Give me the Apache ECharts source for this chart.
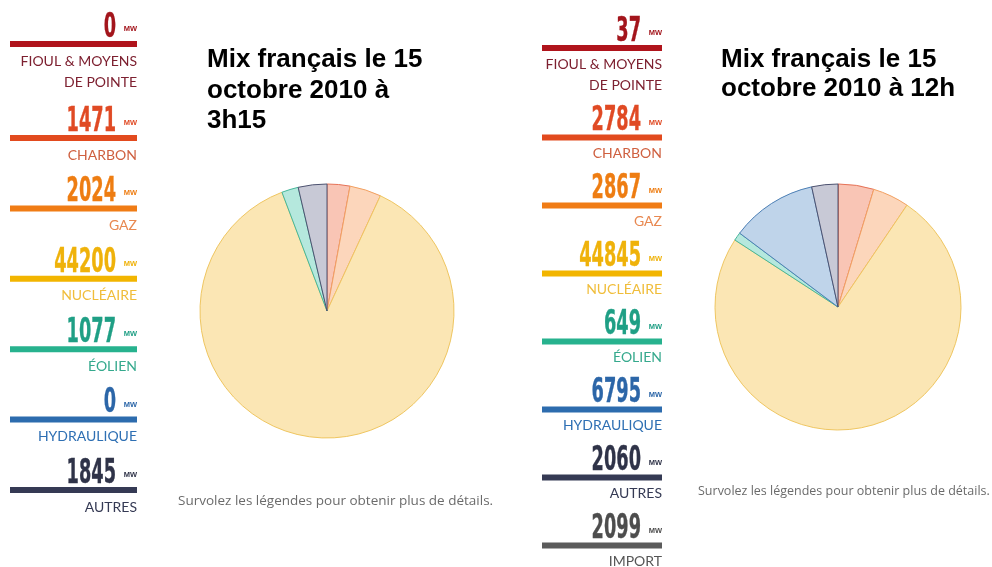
<!DOCTYPE html>
<html>
<head>
<meta charset="utf-8">
<script src="https://cdn.jsdelivr.net/npm/echarts@6/dist/echarts.min.js"></script>
<style>
  html, body { margin: 0; padding: 0; background: #fff; }
  #chart { width: 992px; height: 567px; }
</style>
</head>
<body>
<div id="chart"></div>
<script>
// données (MW)
var leftLabels = ['FIOUL & MOYENS\nDE POINTE', 'CHARBON', 'GAZ', 'NUCLÉAIRE', 'ÉOLIEN', 'HYDRAULIQUE', 'AUTRES'];
var leftValues = [0, 1471, 2024, 44200, 1077, 0, 1845];
var rightLabels = ['FIOUL & MOYENS\nDE POINTE', 'CHARBON', 'GAZ', 'NUCLÉAIRE', 'ÉOLIEN', 'HYDRAULIQUE', 'AUTRES', 'IMPORT'];
var rightValues = [37, 2784, 2867, 44845, 649, 6795, 2060, 2099];
var rightInPie = [true, true, true, true, true, true, true, false]; // l'import n'est pas dans le camembert

var leftTitle = 'Mix français le 15\noctobre 2010 à\n3h15';
var rightTitle = 'Mix français le 15\noctobre 2010 à 12h';
var footText = 'Survolez les légendes pour obtenir plus de détails.';

// couleurs par filière : chiffre, barre, libellé, remplissage, bordure
var colors = [
    {num: '#a3151c', bar: '#b0141c', lab: '#7d2030', fill: '#f4b4b4', border: '#b0141c'},
    {num: '#e04a24', bar: '#e24a1e', lab: '#cf6040', fill: '#f9c5b5', border: '#e67358'},
    {num: '#ee7d12', bar: '#f07c15', lab: '#e88850', fill: '#fcd6bb', border: '#f2a162'},
    {num: '#efb20a', bar: '#f2b500', lab: '#f0bd3a', fill: '#fbe6b4', border: '#efc661'},
    {num: '#1f9f85', bar: '#27b28e', lab: '#35a98d', fill: '#b5e8dd', border: '#45b79a'},
    {num: '#2c66a8', bar: '#2d6cae', lab: '#2e6fb3', fill: '#bfd4ea', border: '#4c7fb5'},
    {num: '#2f3348', bar: '#353a54', lab: '#353a54', fill: '#c8c9d6', border: '#4d5270'},
    {num: '#4d4d4d', bar: '#5b5b5b', lab: '#555555', fill: '#dddddd', border: '#5b5b5b'}
];

var numFont = 'bold 34px "DejaVu Sans Condensed", sans-serif';
var mwFont = 'bold 7.5px "Liberation Sans", sans-serif';
var labFont = '14px Lato, "Open Sans", sans-serif';

function legendColumn(labels, values, cfg) {
    var els = [];
    var barY = cfg.firstBar;
    for (var i = 0; i < labels.length; i++) {
        var c = colors[i];
        var lines = labels[i].split('\n');
        els.push({
            type: 'text', x: cfg.right - 21, y: barY - 13, scaleX: 0.58,
            style: {text: String(values[i]), font: numFont, fill: c.num, stroke: c.num, lineWidth: 0.4,
                    textAlign: 'right', textVerticalAlign: 'middle'}
        });
        els.push({
            type: 'text', x: cfg.right, y: barY - 12,
            style: {text: 'MW', font: mwFont, fill: c.num, textAlign: 'right', textVerticalAlign: 'middle'}
        });
        els.push({
            type: 'rect', shape: {x: cfg.left, y: barY, width: cfg.right - cfg.left, height: 6},
            style: {fill: c.bar}
        });
        for (var k = 0; k < lines.length; k++) {
            els.push({
                type: 'text', x: cfg.right, y: barY + cfg.labOff + 21 * k,
                style: {text: lines[k], font: labFont, fill: c.lab, textAlign: 'right', textVerticalAlign: 'middle'}
            });
        }
        barY += cfg.step + (lines.length - 1) * cfg.extra;
    }
    return els;
}

function pieData(labels, values, keep) {
    var out = [];
    for (var i = 0; i < labels.length; i++) {
        if (keep && !keep[i]) continue;
        out.push({
            name: labels[i].replace('\n', ' '),
            value: values[i],
            itemStyle: {color: colors[i].fill, borderColor: colors[i].border, borderWidth: values[i] > 0 ? 1 : 0}
        });
    }
    return out;
}

var graphics = []
    .concat(legendColumn(leftLabels, leftValues, {left: 10, right: 137, firstBar: 41, step: 70.4, extra: 23.6, labOff: 20}))
    .concat(legendColumn(rightLabels, rightValues, {left: 542, right: 662, firstBar: 45, step: 68, extra: 21.5, labOff: 19}));

graphics.push(
    {type: 'text', x: 178, y: 501, style: {text: footText, font: '13.5px "Open Sans", Lato, sans-serif', fill: '#6b6b6b', textVerticalAlign: 'middle'}},
    {type: 'text', x: 698, y: 491, style: {text: footText, font: '12.5px "Open Sans", Lato, sans-serif', fill: '#6b6b6b', textVerticalAlign: 'middle'}}
);

var myChart = echarts.init(document.getElementById('chart'));
myChart.setOption({
    animation: false,
    backgroundColor: '#ffffff',
    title: [
        {text: leftTitle, left: 207, top: 45, padding: 0, textStyle: {fontFamily: '"Liberation Sans", Arial, sans-serif', fontWeight: 'bold', fontSize: 26, lineHeight: 30.5, color: '#000'}},
        {text: rightTitle, left: 721, top: 45, padding: 0, textStyle: {fontFamily: '"Liberation Sans", Arial, sans-serif', fontWeight: 'bold', fontSize: 26, lineHeight: 29, color: '#000'}}
    ],
    graphic: graphics,
    series: [
        {
            type: 'pie', center: [327, 311], radius: 127, startAngle: 90, clockwise: true,
            label: {show: false}, labelLine: {show: false}, silent: true,
            data: pieData(leftLabels, leftValues)
        },
        {
            type: 'pie', center: [838, 307], radius: 123, startAngle: 90, clockwise: true,
            label: {show: false}, labelLine: {show: false}, silent: true,
            data: pieData(rightLabels, rightValues, rightInPie)
        }
    ]
});
</script>
</body>
</html>
